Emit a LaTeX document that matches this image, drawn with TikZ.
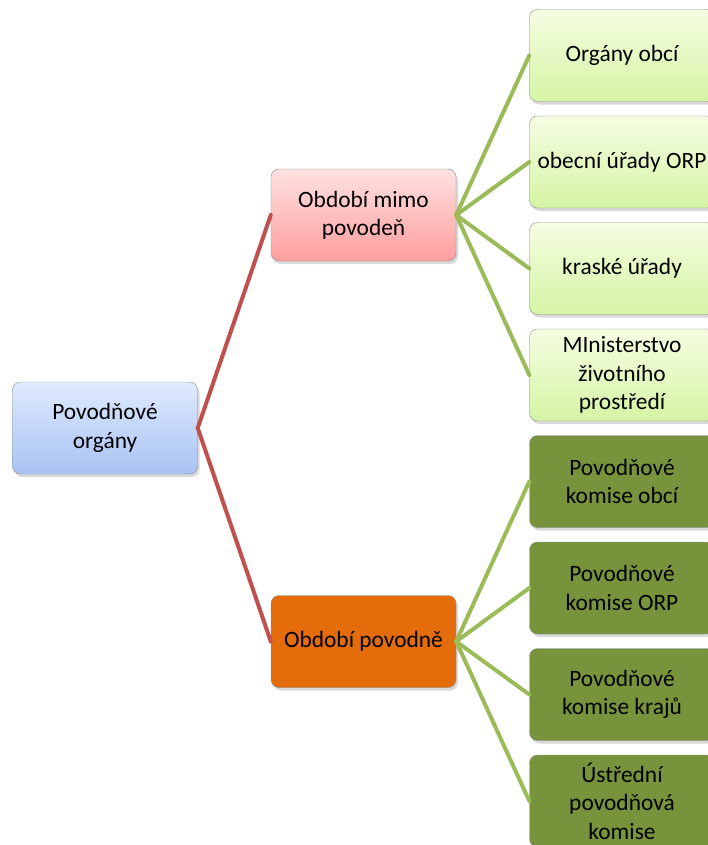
\documentclass[tikz,border=0pt]{standalone}
\usepackage{fontspec}
\setmainfont{Carlito}
\usetikzlibrary{shadows}
\definecolor{rootTop}{HTML}{DFEAFD}
\definecolor{rootBot}{HTML}{A8C3F4}
\definecolor{pinkTop}{HTML}{FFE1E1}
\definecolor{pinkBot}{HTML}{FF9E9E}
\definecolor{limeTop}{HTML}{F5FDE2}
\definecolor{limeBot}{HTML}{D5F4A4}
\definecolor{flood}{HTML}{E46C0A}
\definecolor{olive}{HTML}{77933C}
\definecolor{redline}{HTML}{C0504D}
\definecolor{greenline}{HTML}{9BBB59}
\begin{document}
\begin{tikzpicture}[x=1bp,y=-1bp,font=\fontsize{23.5}{28.5}\selectfont,line join=round,line cap=round,
	box/.style={draw=black!45,rounded corners=8bp,minimum width=185bp,minimum height=92bp,align=center,
		drop shadow={shadow xshift=2bp,shadow yshift=-3bp,opacity=0.3}},
	rootbox/.style={box,top color=rootTop,bottom color=rootBot},
	calmbox/.style={box,top color=pinkTop,bottom color=pinkBot},
	floodbox/.style={box,fill=flood},
	calmleaf/.style={box,top color=limeTop,bottom color=limeBot},
	floodleaf/.style={box,fill=olive},
	redlink/.style={redline,line width=4bp},
	greenlink/.style={greenline,line width=4bp}]
	\useasboundingbox (0,0) rectangle (708,845);
	\clip (0,0) rectangle (708,845);
	\node[rootbox] (organy) at (105,428) {Povodňové\\orgány};
	\node[calmbox] (mimo) at (363.5,215) {Období mimo\\povodeň};
	\node[floodbox] (povoden) at (363.5,641.5) {Období povodně};
	% leaves of the calm period
	\foreach \t [count=\i] in {Orgány obcí, obecní úřady ORP, kraské úřady, {MInisterstvo\\životního\\prostředí}}
		\node[calmleaf] (mimo\i) at (622,{55.5+106.5*(\i-1)}) {\t};
	% leaves of the flood period
	\foreach \t [count=\i] in {{Povodňové\\komise obcí}, {Povodňové\\komise ORP}, {Povodňové\\komise krajů}, {Ústřední\\povodňová\\komise}}
		\node[floodleaf] (povoden\i) at (622,{481.5+106.5*(\i-1)}) {\t};
	\draw[redlink] (organy.east) -- (mimo.west);
	\draw[redlink] (organy.east) -- (povoden.west);
	\foreach \i in {1,...,4} {
		\draw[greenlink] (mimo.east) -- (mimo\i.west);
		\draw[greenlink] (povoden.east) -- (povoden\i.west);
	}
\end{tikzpicture}
\end{document}
